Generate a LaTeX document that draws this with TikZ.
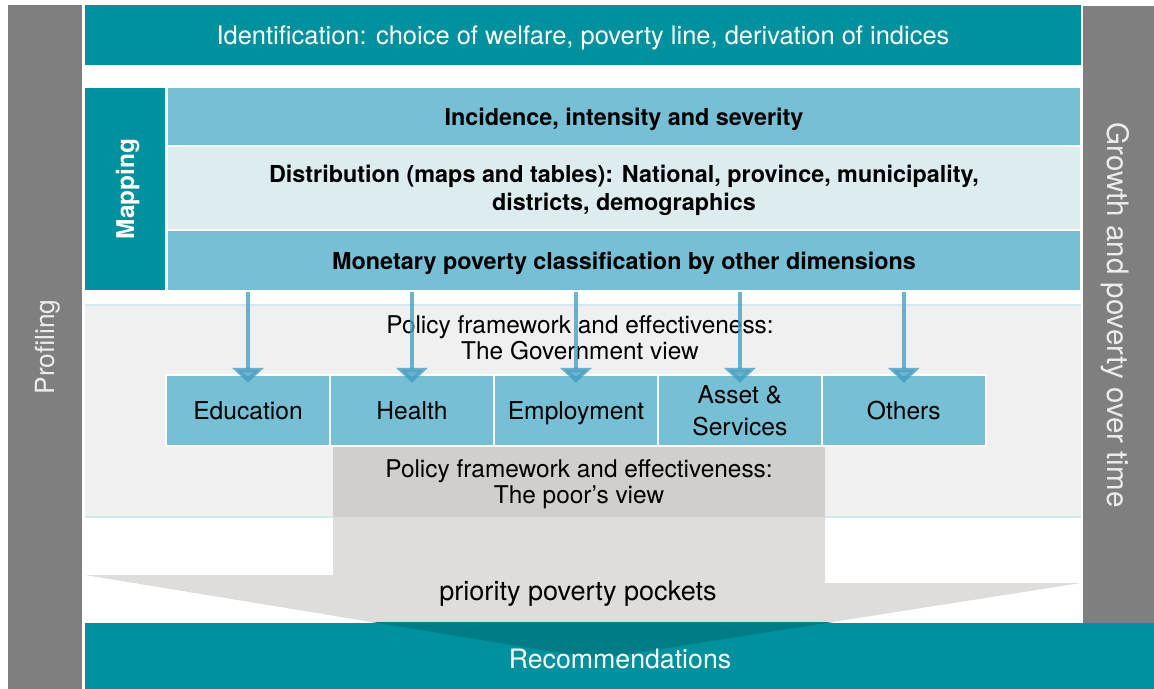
\documentclass[tikz,border=0pt]{standalone}
\usepackage{fontspec}
\setmainfont{TeX Gyre Heros}
\usetikzlibrary{arrows.meta,positioning}
\definecolor{sidegray}{RGB}{127,127,127}
\definecolor{sidetext}{RGB}{236,236,236}
\definecolor{tealbar}{RGB}{0,145,158}
\definecolor{tealdark}{RGB}{0,124,134}
\definecolor{rowblue}{RGB}{118,191,212}
\definecolor{rowpale}{RGB}{221,236,239}
\definecolor{bandgray}{RGB}{240,240,240}
\definecolor{bandline}{RGB}{213,232,238}
\definecolor{poorgray}{RGB}{208,207,205}
\definecolor{funnelgray}{RGB}{222,221,219}
\definecolor{flowblue}{RGB}{70,160,195}

\begin{document}
\begin{tikzpicture}[x=0.02cm,y=-0.02cm,% one unit = one pixel, y going down
	every node/.style={
		align=center,	% for the "\\" line breaks
		inner sep=0pt,
		text depth=0pt,	% center on the baseline, not on the descenders
		font=\fontsize{13.9}{14.8}\selectfont
		},
	sidebar/.style={fill=sidegray,text=sidetext,font=\fontsize{15}{18}\selectfont},
	tealbox/.style={fill=tealbar,text=white},
	rowbox/.style={draw=white,line width=1.2pt,minimum width=18.28cm,font=\bfseries\fontsize{13.3}{16}\selectfont},
	areabox/.style={draw=white,line width=1.2pt,outer sep=0pt,fill=rowblue,minimum width=3.28cm,minimum height=1.42cm,font=\fontsize{14}{18}\selectfont},
	flow/.style={draw=flowblue,line width=2.6pt,opacity=0.8,-{Triangle[width=17.6pt,length=8.5pt]},shorten >=-4.5pt}
	]
\useasboundingbox (0,0) rectangle (1154,689);

% side bars
\node[sidebar,rotate=90,minimum width=13.68cm,minimum height=1.48cm](profiling) at (45,347){Profiling};
\node[sidebar,rotate=-90,minimum width=12.36cm,minimum height=1.42cm,font=\fontsize{16.8}{18}\selectfont](growth) at (1118.5,315){Growth and poverty over time};

% identification and mapping
\node[tealbox,minimum width=19.92cm,minimum height=1.2cm,font=\fontsize{14.5}{16}\selectfont](ident) at (583,35){Identification: choice of welfare, poverty line, derivation of indices};
\node[tealbox,rotate=90,minimum width=4.04cm,minimum height=1.6cm,font=\bfseries\fontsize{13.9}{15}\selectfont](mapping) at (125,189){Mapping};
\node[rowbox,fill=rowblue,minimum height=1.18cm](incidence) at (624,116.5){Incidence, intensity and severity};
\node[rowbox,fill=rowpale,minimum height=1.68cm](distrib) at (624,188){Distribution (maps and tables): National, province, municipality,\\ districts, demographics};
\node[rowbox,fill=rowblue,minimum height=1.22cm](monetary) at (624,260.5){Monetary poverty classification by other dimensions};

% government band
\node[fill=bandgray,minimum width=19.92cm,minimum height=4.24cm](govband) at (583,411){};
\draw[bandline,line width=1.2pt] (govband.north west) -- (govband.north east);
\draw[bandline,line width=1.2pt] (govband.south west) -- (govband.south east);

% funnel down to the recommendations
\fill[funnelgray] (85,575) -- (333,575) -- (333,447) -- (825,447) -- (825,583) -- (1081,583) -- (597,659) -- cycle;
\node[fill=poorgray,minimum width=9.84cm,minimum height=1.4cm](poorview) at (579,482){Policy framework and effectiveness:\\The poor’s view};
\node(govview) at (580,338){Policy framework and effectiveness:\\The Government view};

\node[areabox](educ) at (248,410.5){Education};
\node[areabox,right=0pt of educ](health){Health};
\node[areabox,right=0pt of health](employ){Employment};
\node[areabox,right=0pt of employ](asset){Asset \&\\Services};
\node[areabox,right=0pt of asset](others){Others};

\foreach \b in {educ,health,employ,asset,others}
	\draw[flow] (monetary.south -| \b.north) -- (\b.north);

\node[font=\fontsize{15.4}{17}\selectfont](pockets) at (578,591){priority poverty pockets};

\node[tealbox,minimum width=21.38cm,minimum height=1.32cm](recbar) at (619.5,656){};
\begin{scope}
	\clip (recbar.north west) rectangle (recbar.south east);
	\fill[tealdark] (85,575) -- (1081,583) -- (597,659) -- cycle;
\end{scope}
\node[text=white,font=\fontsize{15.2}{17}\selectfont](recs) at (620,659){Recommendations};
\end{tikzpicture}
\end{document}
